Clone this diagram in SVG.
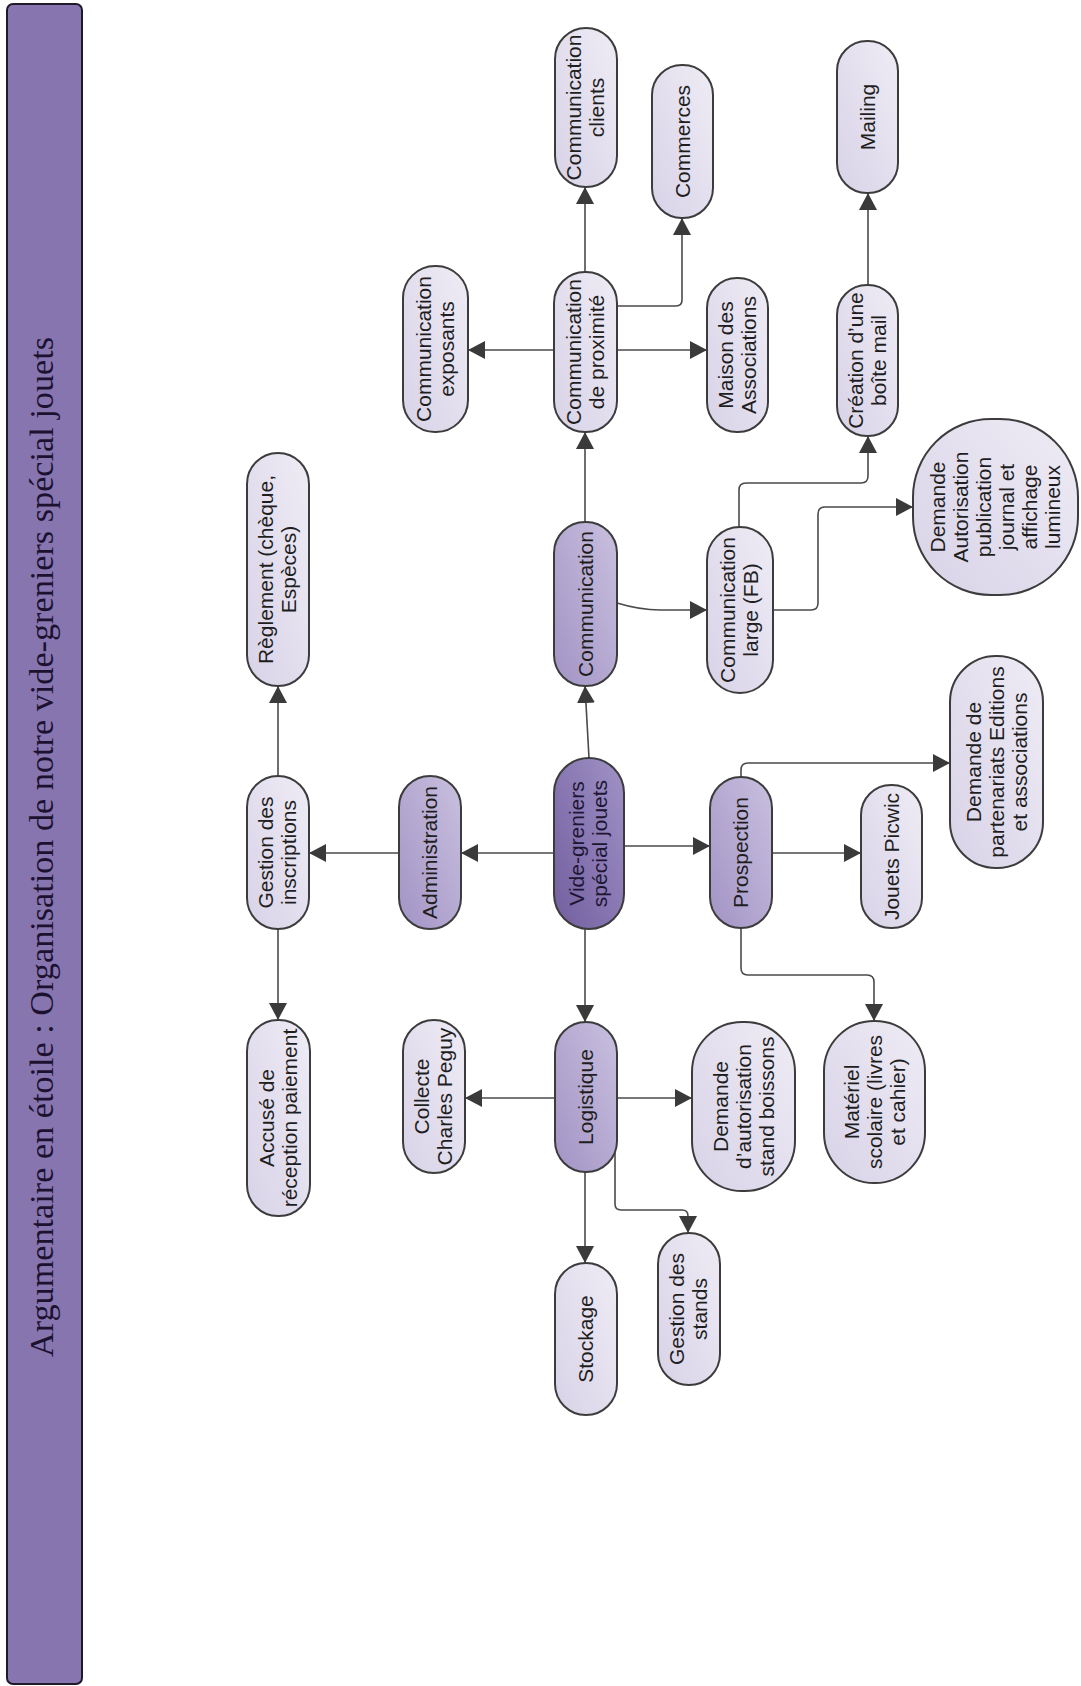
<svg xmlns="http://www.w3.org/2000/svg" width="1081" height="1686" viewBox="0 0 1081 1686">
<defs>
<linearGradient id="gLeaf" x1="0" y1="1" x2="1" y2="0"><stop offset="0" stop-color="#d8d2e7"/><stop offset="1" stop-color="#efecf5"/></linearGradient>
<linearGradient id="gMid" x1="0" y1="1" x2="1" y2="0"><stop offset="0" stop-color="#a293c5"/><stop offset="1" stop-color="#c9c0de"/></linearGradient>
<linearGradient id="gCenter" x1="0" y1="1" x2="1" y2="0"><stop offset="0" stop-color="#725e9f"/><stop offset="1" stop-color="#a092c6"/></linearGradient>
<marker id="arr" markerUnits="userSpaceOnUse" markerWidth="20" markerHeight="20" refX="17" refY="9" orient="auto">
<path d="M0,0 L17,9 L0,18 z" fill="#3a3a3a"/>
</marker>
<style>
.n rect{stroke:#3c3c3c;stroke-width:2}
.leaf rect{fill:url(#gLeaf)}
.mid rect{fill:url(#gMid)}
.ctr rect{fill:url(#gCenter)}
.n text{font-family:"Liberation Sans",Arial,sans-serif;font-size:21px;fill:#1e1e1e;text-anchor:middle}
.ctr text{fill:#1d1633}
#connectors path{fill:none;stroke:#4a4a4a;stroke-width:1.6;marker-end:url(#arr)}
</style>
</defs>
<rect width="1081" height="1686" fill="#ffffff"/>

<g id="title">
<rect x="7" y="4" width="75" height="1680" rx="6" fill="#8775b0" stroke="#1e1a2a" stroke-width="2"/>
<text transform="translate(53,847) rotate(-90)" text-anchor="middle" font-family="'Liberation Serif','Times New Roman',serif" font-size="33" fill="#1c1230" textLength="1020" lengthAdjust="spacingAndGlyphs">Argumentaire en étoile : Organisation de notre vide-greniers spécial jouets</text>
</g>

<g id="connectors">
<path d="M554,853 L461,853"/>
<path d="M399,853 L309,853"/>
<path d="M278,776 L278,686"/>
<path d="M278,929 L278,1020"/>
<path d="M589,758 L585,686"/>
<path d="M585,522 L585,432"/>
<path d="M585,272 L585,187"/>
<path d="M554,350 L468,350"/>
<path d="M617,350 L707,350"/>
<path d="M617,306 L676,306 Q682,306 682,300 L682,218"/>
<path d="M617,603 Q640,610 660,610 L707,610"/>
<path d="M739,527 L739,490 Q739,483 746,483 L861,483 Q868,483 868,476 L868,436"/>
<path d="M773,610 L811,610 Q818,610 818,603 L818,514 Q818,507 825,507 L913,507"/>
<path d="M868,285 L868,193"/>
<path d="M624,846 L710,846"/>
<path d="M772,853 L861,853"/>
<path d="M741,777 L741,770 Q741,763 748,763 L950,763"/>
<path d="M741,928 L741,968 Q741,975 748,975 L867,975 Q874,975 874,982 L874,1021"/>
<path d="M585,929 L585,1022"/>
<path d="M555,1098 L465,1098"/>
<path d="M617,1098 L692,1098"/>
<path d="M585,1172 L585,1263"/>
<path d="M615,1153 L615,1204 Q615,1210 621,1210 L682,1210 Q688,1210 688,1216 L688,1233"/>
</g>

<g id="n-reglement" class="n leaf">
<rect x="247" y="453" width="62" height="233" rx="31"/>
<g transform="translate(278,569.5) rotate(-90)"><text y="-5">Règlement (chèque,</text><text y="18">Espèces)</text></g>
</g>
<g id="n-gestion-inscriptions" class="n leaf">
<rect x="247" y="776" width="62" height="153" rx="31"/>
<g transform="translate(278,852.5) rotate(-90)"><text y="-5">Gestion des</text><text y="18">inscriptions</text></g>
</g>
<g id="n-accuse" class="n leaf">
<rect x="247" y="1020" width="63" height="196" rx="31"/>
<g transform="translate(278.5,1118) rotate(-90)"><text y="-5">Accusé de</text><text y="18">réception paiement</text></g>
</g>
<g id="n-administration" class="n mid">
<rect x="399" y="776" width="62" height="153" rx="31"/>
<g transform="translate(430,852.5) rotate(-90)"><text y="7">Administration</text></g>
</g>
<g id="n-collecte" class="n leaf">
<rect x="403" y="1020" width="62" height="153" rx="31"/>
<g transform="translate(434,1096.5) rotate(-90)"><text y="-5">Collecte</text><text y="18">Charles Peguy</text></g>
</g>
<g id="n-comm-exposants" class="n leaf">
<rect x="403" y="266" width="65" height="166" rx="32"/>
<g transform="translate(435.5,349) rotate(-90)"><text y="-5">Communication</text><text y="18">exposants</text></g>
</g>
<g id="n-comm-clients" class="n leaf">
<rect x="555" y="28" width="62" height="159" rx="31"/>
<g transform="translate(586,107.5) rotate(-90)"><text y="-5">Communication</text><text y="18">clients</text></g>
</g>
<g id="n-comm-proximite" class="n leaf">
<rect x="554" y="272" width="63" height="160" rx="31"/>
<g transform="translate(585.5,352) rotate(-90)"><text y="-5">Communication</text><text y="18">de proximité</text></g>
</g>
<g id="n-communication" class="n mid">
<rect x="554" y="522" width="63" height="164" rx="31"/>
<g transform="translate(585.5,604) rotate(-90)"><text y="7">Communication</text></g>
</g>
<g id="n-vide-greniers" class="n ctr">
<rect x="554" y="758" width="70" height="171" rx="35"/>
<g transform="translate(589,843.5) rotate(-90)"><text y="-5">Vide-greniers</text><text y="18">spécial jouets</text></g>
</g>
<g id="n-logistique" class="n mid">
<rect x="555" y="1022" width="62" height="150" rx="31"/>
<g transform="translate(586,1097) rotate(-90)"><text y="7">Logistique</text></g>
</g>
<g id="n-stockage" class="n leaf">
<rect x="555" y="1263" width="62" height="152" rx="31"/>
<g transform="translate(586,1339) rotate(-90)"><text y="7">Stockage</text></g>
</g>
<g id="n-commerces" class="n leaf">
<rect x="652" y="65" width="61" height="153" rx="30"/>
<g transform="translate(682.5,141.5) rotate(-90)"><text y="7">Commerces</text></g>
</g>
<g id="n-maison" class="n leaf">
<rect x="707" y="278" width="61" height="154" rx="30"/>
<g transform="translate(737.5,355) rotate(-90)"><text y="-5">Maison des</text><text y="18">Associations</text></g>
</g>
<g id="n-comm-large" class="n leaf">
<rect x="707" y="527" width="66" height="166" rx="33"/>
<g transform="translate(740,610) rotate(-90)"><text y="-5">Communication</text><text y="18">large (FB)</text></g>
</g>
<g id="n-demande-boissons" class="n leaf">
<rect x="692" y="1022" width="103" height="169" rx="50"/>
<g transform="translate(743.5,1106.5) rotate(-90)"><text y="-16">Demande</text><text y="7">d’autorisation</text><text y="30">stand boissons</text></g>
</g>
<g id="n-gestion-stands" class="n leaf">
<rect x="658" y="1233" width="62" height="152" rx="31"/>
<g transform="translate(689,1309) rotate(-90)"><text y="-5">Gestion des</text><text y="18">stands</text></g>
</g>
<g id="n-prospection" class="n mid">
<rect x="710" y="777" width="62" height="151" rx="31"/>
<g transform="translate(741,852.5) rotate(-90)"><text y="7">Prospection</text></g>
</g>
<g id="n-creation-mail" class="n leaf">
<rect x="837" y="285" width="61" height="151" rx="30"/>
<g transform="translate(867.5,360.5) rotate(-90)"><text y="-5">Création d’une</text><text y="18">boîte mail</text></g>
</g>
<g id="n-mailing" class="n leaf">
<rect x="837" y="41" width="61" height="152" rx="30"/>
<g transform="translate(867.5,117) rotate(-90)"><text y="7">Mailing</text></g>
</g>
<g id="n-demande-publication" class="n leaf">
<rect x="913" y="419" width="165" height="176" rx="78"/>
<g transform="translate(995.5,507) rotate(-90)"><text y="-51">Demande</text><text y="-28">Autorisation</text><text y="-5">publication</text><text y="18">journal et</text><text y="41">affichage</text><text y="64">lumineux</text></g>
</g>
<g id="n-jouets-picwic" class="n leaf">
<rect x="861" y="785" width="61" height="143" rx="30"/>
<g transform="translate(891.5,856.5) rotate(-90)"><text y="7">Jouets Picwic</text></g>
</g>
<g id="n-partenariats" class="n leaf">
<rect x="950" y="656" width="93" height="212" rx="46"/>
<g transform="translate(996.5,762) rotate(-90)"><text y="-16">Demande de</text><text y="7">partenariats Editions</text><text y="30">et associations</text></g>
</g>
<g id="n-materiel" class="n leaf">
<rect x="824" y="1021" width="101" height="162" rx="50"/>
<g transform="translate(874.5,1102) rotate(-90)"><text y="-16">Matériel</text><text y="7">scolaire (livres</text><text y="30">et cahier)</text></g>
</g>
</svg>
